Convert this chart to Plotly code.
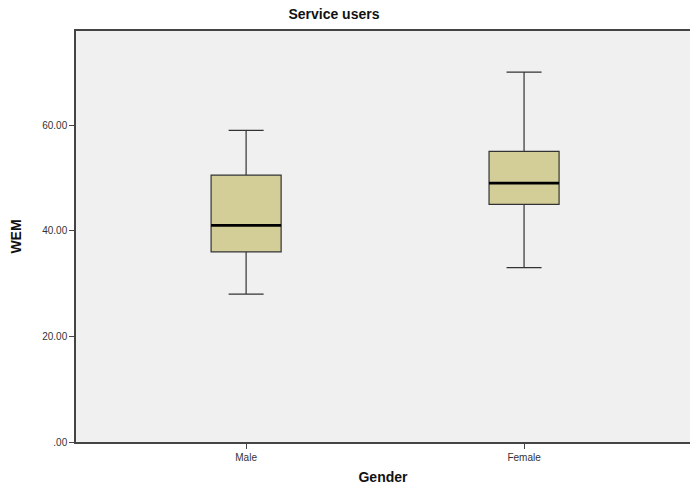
import plotly.graph_objects as go

categories = ["Male", "Female"]
lower_whisker = [28.0, 33.0]
q1_vals = [36.0, 45.0]
medians = [41.0, 49.0]
q3_vals = [50.5, 55.0]
upper_whisker = [59.0, 70.0]
y_tickvals = [0, 20, 40, 60]
y_ticktext = [".00", "20.00", "40.00", "60.00"]

FONT = "Arial, Liberation Sans, sans-serif"
BOX_W = 0.252
xpos = list(range(len(categories)))

fig = go.Figure()
fig.add_trace(go.Box(
    x=xpos,
    q1=q1_vals, median=medians, q3=q3_vals,
    lowerfence=lower_whisker, upperfence=upper_whisker,
    width=BOX_W, whiskerwidth=0.5,
    fillcolor="#D3CE98",
    line=dict(color="#333333", width=1.2),
    boxpoints=False, showlegend=False, hoverinfo="skip",
))
for i, m in zip(xpos, medians):
    fig.add_trace(go.Scatter(
        x=[i - BOX_W / 2, i + BOX_W / 2], y=[m, m], mode="lines",
        line=dict(color="#000000", width=2.6), showlegend=False, hoverinfo="skip",
    ))

fig.update_layout(
    width=690, height=486,
    margin=dict(l=76, r=0, t=31, b=44),
    paper_bgcolor="white", plot_bgcolor="#F0F0F0",
    font=dict(family=FONT, color="#333333", size=10),
    title=dict(text="<b>Service users</b>", x=0.484, xanchor="center",
               y=0.97, yanchor="middle", font=dict(size=14, color="#111111", family=FONT)),
)
fig.update_xaxes(
    range=[-0.612, 1.597], tickvals=xpos, ticktext=categories,
    showgrid=False, zeroline=False, showline=True, linecolor="#444444", linewidth=1.5,
    mirror=True, ticks="outside", ticklen=5, tickcolor="#444444",
    tickfont=dict(size=10, color="#333333", family=FONT),
    title=dict(text="<b>Gender</b>", font=dict(size=14, color="#111111", family=FONT), standoff=10),
)
fig.update_yaxes(
    range=[0, 77.8], tickvals=y_tickvals, ticktext=y_ticktext,
    showgrid=False, zeroline=False, showline=True, linecolor="#444444", linewidth=1.5,
    ticks="outside", ticklen=5, tickcolor="#444444",
    tickfont=dict(size=10, color="#333333", family=FONT),
    title=dict(text="<b>WEM</b>", font=dict(size=14, color="#111111", family=FONT), standoff=17),
)
fig.write_html("out.html", config={"responsive": False, "displayModeBar": False},
               post_script="document.body.style.margin='0';document.body.style.overflow='hidden';")
